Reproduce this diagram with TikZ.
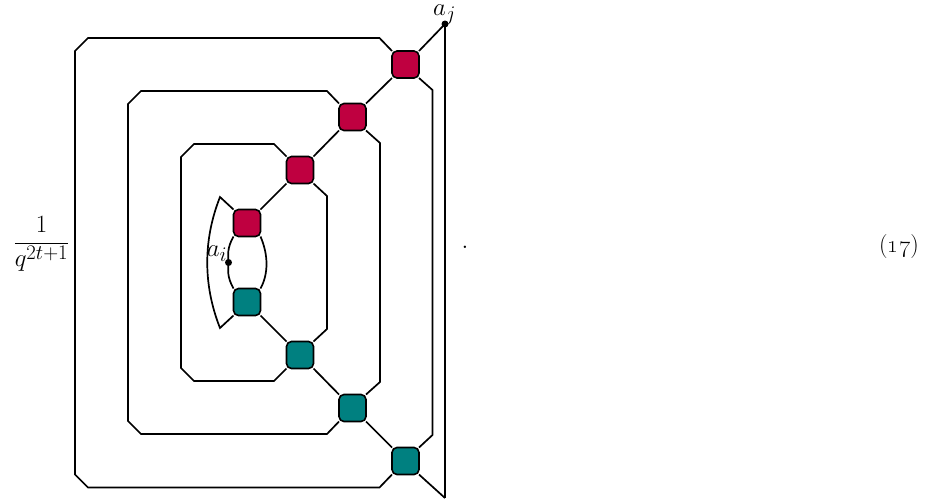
\documentclass[tikz,border=0pt]{standalone}
\usetikzlibrary{backgrounds}
\DeclareMathSizes{24}{24}{21}{16}
\DeclareMathSizes{27}{27}{22}{16}
\definecolor{wine}{HTML}{BF0040}
\definecolor{tealbox}{HTML}{008080}
\tikzset{
  sq/.style={draw=black,line width=1.6pt,rounded corners=5pt,minimum size=27pt,inner sep=0pt,outer sep=0pt},
  redsq/.style={sq,fill=wine},
  tealsq/.style={sq,fill=tealbox},
  wire/.style={line width=1.7pt,line join=miter},
  dot/.style={circle,fill=black,inner sep=0pt,minimum size=7pt},
  lbl/.style={inner sep=0pt,font=\fontsize{24}{28}\selectfont},
  vlbl/.style={inner sep=0pt,font=\fontsize{27}{30}\selectfont}
}
\begin{document}
\begin{tikzpicture}[x=1pt,y=-1pt]
\useasboundingbox (0,0) rectangle (946,499);
\node[redsq] (r1) at (247,223) {};
\node[redsq] (r2) at (300,170) {};
\node[redsq] (r3) at (352.5,117) {};
\node[redsq] (r4) at (405.5,64.5) {};
\node[tealsq] (t1) at (247,302) {};
\node[tealsq] (t2) at (300,355) {};
\node[tealsq] (t3) at (352.5,408) {};
\node[tealsq] (t4) at (405.5,461) {};
\node[dot] (di) at (228.5,262.5) {};
\node[dot] (dj) at (445,24) {};
\coordinate (bot) at (445,498);
\begin{pgfonlayer}{background}
% chain
\draw[wire] (r1.north east) -- (r2.south west);
\draw[wire] (r2.north east) -- (r3.south west);
\draw[wire] (r3.north east) -- (r4.south west);
\draw[wire] (r4.north east) -- (dj.center);
\draw[wire] (t1.south east) -- (t2.north west);
\draw[wire] (t2.south east) -- (t3.north west);
\draw[wire] (t3.south east) -- (t4.north west);
\draw[wire] (t4.south east) -- (bot);
\draw[wire] (dj.center) -- (bot);
% outer loop
\draw[wire] (r4.north west) -- (379.5,38) -- (88,38) -- (75,51) -- (75,474.5) -- (88,487.5) -- (379.5,487.5) -- (t4.south west);
\draw[wire] (r4.south east) -- (432.5,90) -- (432.5,435) -- (t4.north east);
% second loop
\draw[wire] (r3.north west) -- (327,91) -- (141,91) -- (128,104) -- (128,421) -- (141,434) -- (327,434) -- (t3.south west);
\draw[wire] (r3.south east) -- (380,143) -- (380,382) -- (t3.north east);
% third loop
\draw[wire] (r2.north west) -- (274,144) -- (194,144) -- (181,157) -- (181,368) -- (194,381) -- (274,381) -- (t2.south west);
\draw[wire] (r2.south east) -- (327,196) -- (327,329) -- (t2.north east);
% innermost
\draw[wire] (r1.north west) -- (220,197) .. controls (203,240) and (203,285) .. (220,328) -- (t1.south west);
\draw[wire] (r1.south west) .. controls (227,248) and (228,255) .. (di.center) .. controls (228,270) and (227,277) .. (t1.north west);
\draw[wire] (r1.south east) .. controls (268.5,255) and (268.5,274) .. (t1.north east);
\end{pgfonlayer}
\node[vlbl] (li) at (217,254) {$a_i$};
\node[vlbl] (lj) at (444.5,14.5) {$a_j$};
\node[lbl] (fr) at (41.5,244) {$\displaystyle\frac{1}{q^{2t+1}}$};
\node[lbl] (pd) at (465,247) {$.$};
\node[lbl] (eq) at (899,246.5) {(\oldstylenums{17})};
\end{tikzpicture}
\end{document}
